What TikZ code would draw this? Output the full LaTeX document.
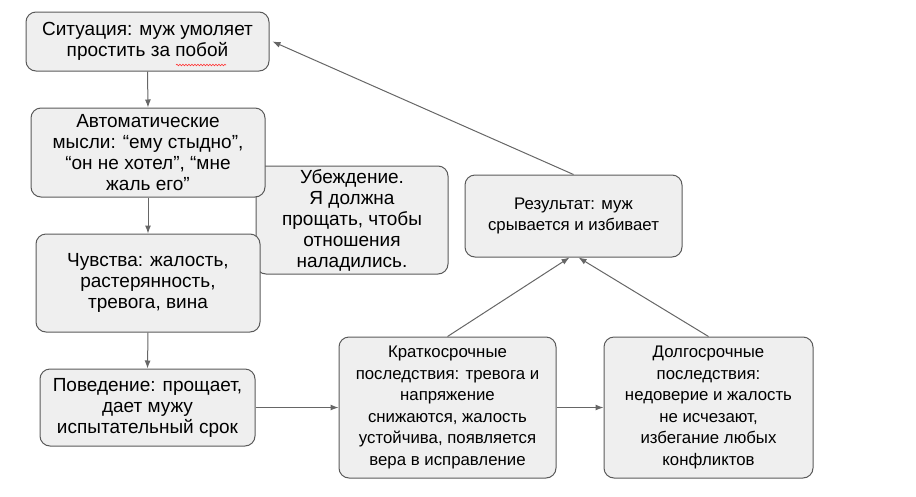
\documentclass[tikz,border=0pt]{standalone}
\usepackage{fontspec}
\setmainfont{Liberation Sans}
\usetikzlibrary{arrows.meta,decorations.pathmorphing}
\definecolor{boxfill}{HTML}{EFEFEF}
\definecolor{boxline}{HTML}{5A5A5A}
\definecolor{arrowc}{HTML}{666666}
\begin{document}
\begin{tikzpicture}[x=1pt,y=1pt,
  box/.style={draw=boxline,fill=boxfill,line width=1pt,rounded corners=10pt,
    inner sep=0pt,align=center,font=\fontsize{19}{21}\selectfont},
  rbox/.style={box,font=\fontsize{16.8}{21.6}\selectfont},
  conn/.style={draw=arrowc,line width=1pt,-{Latex[length=8pt,width=6pt]}}]
\useasboundingbox (0,0) rectangle (916,-496);
\node[box,minimum width=192pt,minimum height=108pt] (bel) at (352,-220)
  {Убеждение.\\Я должна\\прощать, чтобы\\отношения\\наладились.};
\node[box,minimum width=243pt,minimum height=59pt] (sit) at (147.5,-41.5)
  {Ситуация: муж умоляет\\простить за побой};
\node[box,minimum width=234pt,minimum height=89pt] (aut) at (148,-152.5)
  {Автоматические\\мысли: “ему стыдно”,\\“он не хотел”, “мне\\жаль его”};
\node[box,minimum width=224pt,minimum height=98pt] (feel) at (148,-283)
  {Чувства: жалость,\\растерянность,\\тревога, вина};
\node[box,minimum width=215pt,minimum height=77pt] (beh) at (147.5,-407.5)
  {Поведение: прощает,\\дает мужу\\испытательный срок};
\node[rbox,minimum width=217pt,minimum height=141pt] (st) at (447.5,-407.5)
  {Краткосрочные\\последствия: тревога и\\напряжение\\снижаются, жалость\\устойчива, появляется\\вера в исправление};
\node[rbox,minimum width=209pt,minimum height=141pt] (lt) at (708.5,-407.5)
  {Долгосрочные\\последствия:\\недоверие и жалость\\не исчезают,\\избегание любых\\конфликтов};
\node[rbox,minimum width=217pt,minimum height=82pt] (res) at (573.5,-216)
  {Результат: муж\\срывается и избивает};
\coordinate (resL) at ([xshift=-4pt]res.south);
\coordinate (resR) at ([xshift=5pt]res.south);
\draw[conn] (sit.south) -- (aut.north);
\draw[conn] (aut.south) -- (feel.north);
\draw[conn] (feel.south) -- (beh.north);
\draw[conn] (beh.east) -- (st.west);
\draw[conn] (st.east) -- (lt.west);
\draw[conn] (st.north) -- (resL);
\draw[conn] (lt.north) -- (resR);
\draw[conn] (res.north) -- ([xshift=3pt]sit.east);
\draw[red!80,line width=0.6pt,decorate,
  decoration={snake,amplitude=0.8pt,segment length=3pt}] (176,-65) -- (226,-65);
\end{tikzpicture}
\end{document}
